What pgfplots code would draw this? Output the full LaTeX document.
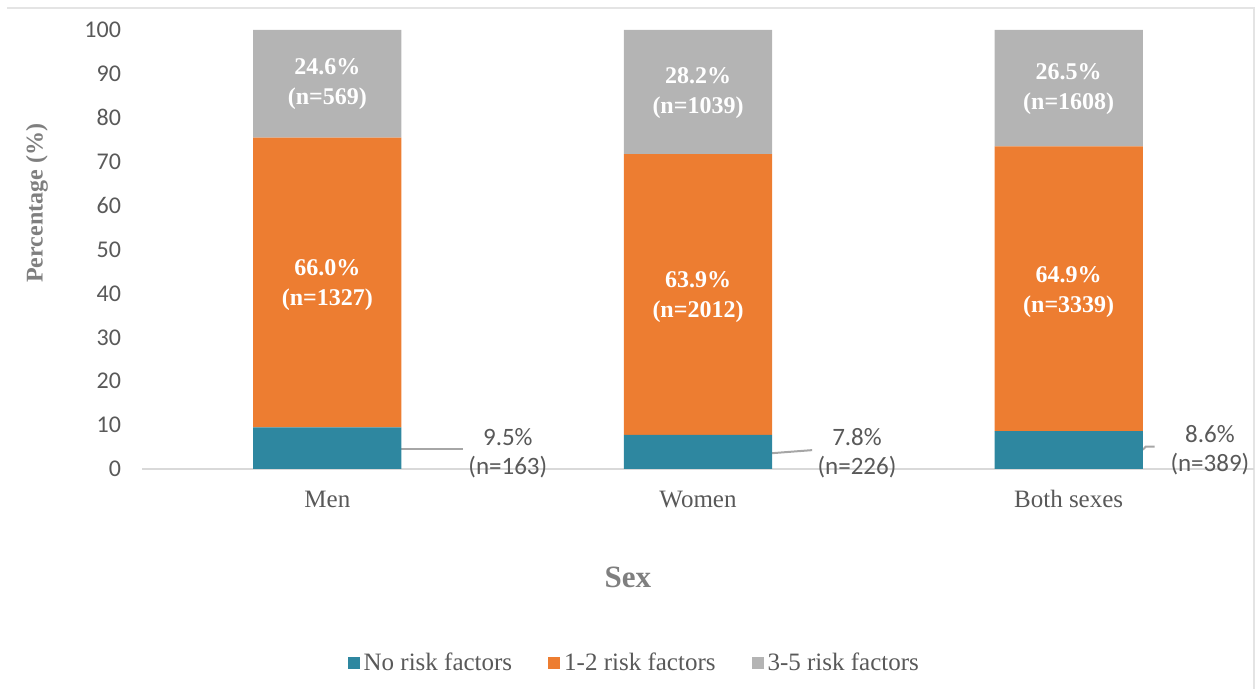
\documentclass[border=0pt]{standalone}
\usepackage{pgfplots}
\pgfplotsset{compat=1.18}
\usepackage{fontspec}
\setmainfont{Liberation Serif}
\newfontfamily\calibri{Carlito}
\definecolor{cteal}{HTML}{2E87A0}
\definecolor{corange}{HTML}{ED7D31}
\definecolor{cgray}{HTML}{B4B4B4}
\definecolor{ctext}{HTML}{595959}
\definecolor{clabel}{HTML}{7F7F7F}
\definecolor{cline}{HTML}{D9D9D9}
\definecolor{clead}{HTML}{A6A6A6}
\tikzset{
  inlab/.style={align=center, text=white, font=\bfseries\fontsize{12}{15}\selectfont},
  outlab/.style={align=center, text=ctext, font=\calibri\fontsize{12.5}{14.5}\selectfont},
}
\begin{document}
\begin{tikzpicture}
\path[use as bounding box] (0,0) rectangle (628pt,344.5pt);
% faint chart frame
\draw[draw=cline!70, line width=0.6pt] (3.5pt,340.5pt) -- (627pt,340.5pt) -- (627pt,0pt);
\begin{axis}[
  at={(71pt,110pt)}, anchor=south west,
  scale only axis, width=556pt, height=219.5pt,
  ybar stacked, bar width=0.4,
  xmin=-0.5, xmax=2.5, ymin=0, ymax=100,
  xtick={0,1,2}, xticklabels={Men, Women, Both sexes},
  ytick={0,10,...,100},
  axis x line*=bottom, axis y line*=left,
  x axis line style={draw=cline, line width=1pt, -},
  y axis line style={draw=none},
  major tick length=0pt,
  /pgf/number format/assume math mode=true,
  yticklabel style={font=\calibri\fontsize{12}{12}\selectfont, text=ctext, xshift=-7pt},
  xticklabel style={font=\fontsize{12.5}{12.5}\selectfont, text=ctext, anchor=base, yshift=-19.5pt},
  ylabel={Percentage (\%)},
  ylabel style={at={(axis description cs:-0.0945,0.605)}, anchor=center,
    font=\bfseries\fontsize{12}{12}\selectfont, text=clabel},
  xlabel={Sex},
  xlabel style={at={(axis description cs:0.437,-0.246)}, anchor=center,
    font=\bfseries\fontsize{15.5}{15.5}\selectfont, text=clabel},
  legend columns=3,
  legend style={at={(axis description cs:0.4436,-0.442)}, anchor=center, draw=none,
    font=\fontsize{12.5}{12.5}\selectfont, text=ctext,
    /tikz/every even column/.append style={column sep=16pt}},
  legend image code/.code={\fill[#1] (0pt,-3pt) rectangle (6pt,3pt);},
]
\addplot[fill=cteal, draw=none] coordinates {(0,9.5) (1,7.8) (2,8.6)};
\addplot[fill=corange, draw=none] coordinates {(0,66.0) (1,63.9) (2,64.9)};
\addplot[fill=cgray, draw=none] coordinates {(0,24.5) (1,28.3) (2,26.5)};
\legend{No risk factors, 1-2 risk factors, 3-5 risk factors}

% anchor points for the labels (drawn after the axis so they sit on top)
\coordinate (a1) at (axis cs:0,41.8);
\coordinate (a2) at (axis cs:0,87.6);
\coordinate (b1) at (axis cs:1,39.2);
\coordinate (b2) at (axis cs:1,85.7);
\coordinate (c1) at (axis cs:2,40.4);
\coordinate (c2) at (axis cs:2,86.6);
\coordinate (a0) at (axis cs:0.487,3.6);
\coordinate (b0) at (axis cs:1.429,3.6);
\coordinate (c0) at (axis cs:2.381,4.3);

% leader lines
\draw[clead, line width=1pt] (axis cs:0.2,4.6) -- (axis cs:0.366,4.6);
\draw[clead, line width=1pt] (axis cs:1.2,3.6) -- (axis cs:1.308,4.3);
\draw[clead, line width=1pt] (axis cs:2.2,4.4) -- (axis cs:2.208,5.1) -- (axis cs:2.232,5.1);
\end{axis}
\node[inlab] at (a1) {66.0\%\\(n=1327)};
\node[inlab] at (a2) {24.6\%\\(n=569)};
\node[inlab] at (b1) {63.9\%\\(n=2012)};
\node[inlab] at (b2) {28.2\%\\(n=1039)};
\node[inlab] at (c1) {64.9\%\\(n=3339)};
\node[inlab] at (c2) {26.5\%\\(n=1608)};
\node[outlab] at (a0) {9.5\%\\(n=163)};
\node[outlab] at (b0) {7.8\%\\(n=226)};
\node[outlab] at (c0) {8.6\%\\(n=389)};
\end{tikzpicture}
\end{document}
